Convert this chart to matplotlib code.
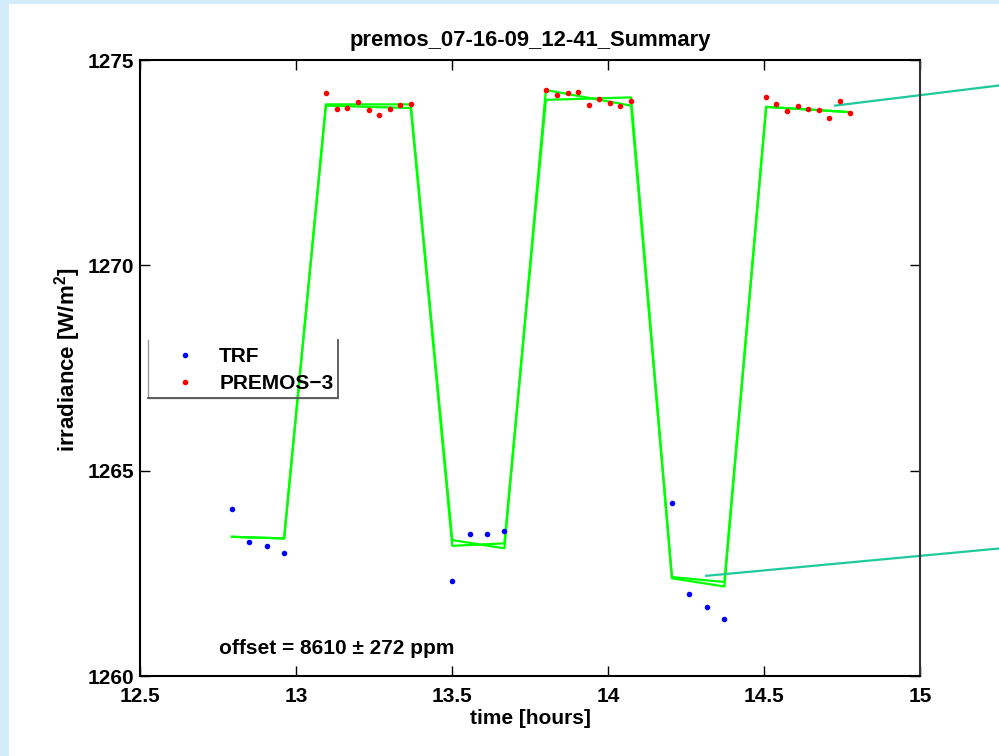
# PREMOS-3 vs TRF irradiance summary plot

import matplotlib
matplotlib.use("Agg")
import matplotlib.pyplot as plt
from matplotlib.patches import Rectangle
from matplotlib.lines import Line2D

plt.rcParams["font.family"] = ["Liberation Sans", "DejaVu Sans"]
plt.rcParams["font.weight"] = "bold"
plt.rcParams["mathtext.fontset"] = "custom"
plt.rcParams["mathtext.rm"] = "Liberation Sans:bold"
plt.rcParams["mathtext.bf"] = "Liberation Sans:bold"

# TRF samples (shutter closed/dark plateaus)
trf_t = [12.795, 12.849, 12.907, 12.962,
         13.501, 13.557, 13.611, 13.667,
         14.204, 14.261, 14.317, 14.372]
trf_v = [1264.07, 1263.26, 1263.17, 1263.00,
         1262.31, 1263.47, 1263.47, 1263.54,
         1264.21, 1261.99, 1261.69, 1261.38]

# PREMOS-3 samples
pre_t = [13.097, 13.131, 13.165, 13.199, 13.233, 13.266, 13.300, 13.333, 13.368,
         13.802, 13.837, 13.871, 13.904, 13.938, 13.971, 14.005, 14.040, 14.074,
         14.507, 14.540, 14.574, 14.609, 14.642, 14.676, 14.709, 14.744, 14.777]
pre_v = [1274.19, 1273.81, 1273.82, 1273.98, 1273.78, 1273.67, 1273.80, 1273.90, 1273.93,
         1274.27, 1274.16, 1274.20, 1274.21, 1273.90, 1274.04, 1273.96, 1273.88, 1274.00,
         1274.09, 1273.94, 1273.77, 1273.88, 1273.81, 1273.78, 1273.58, 1274.01, 1273.70]

# plateau fits (two passes)
fit_t = [12.795, 12.962, 13.096, 13.368, 13.501, 13.668, 13.801, 14.074, 14.205, 14.373, 14.507, 14.777]
fit_a = [1263.39, 1263.35, 1273.92, 1273.92, 1263.31, 1263.11, 1274.27, 1273.89, 1262.38, 1262.18, 1273.86, 1273.73]
fit_b = [1263.39, 1263.35, 1273.89, 1273.83, 1263.17, 1263.23, 1274.03, 1274.09, 1262.41, 1262.29, 1273.86, 1273.73]

# trend lines running off the right side
trend_hi_t = [14.728, 15.5]
trend_hi_v = [1273.89, 1274.61]
trend_lo_t = [14.315, 15.5]
trend_lo_v = [1262.44, 1263.28]

xticks = [12.5, 13, 13.5, 14, 14.5, 15]
xtick_labels = ["12.5", "13", "13.5", "14", "14.5", "15"]
yticks = [1260, 1265, 1270, 1275]

fig = plt.figure(figsize=(9.99, 7.56), dpi=100, facecolor="#d2ecfb")
fig.patches.append(Rectangle((9 / 999, 0), 1, 1 - 4 / 756, transform=fig.transFigure,
                             facecolor="white", edgecolor="none", zorder=-5))
ax = fig.add_axes([0.1401, 0.1058, 0.7808, 0.8148])

ax.plot(fit_t, fit_a, color="#00ff00", lw=1.6, zorder=2)
ax.plot(fit_t, fit_b, color="#00ff00", lw=1.6, zorder=2)
ax.plot(trend_hi_t, trend_hi_v, color="#1ec99b", lw=1.6, clip_on=False, zorder=2)
ax.plot(trend_lo_t, trend_lo_v, color="#1ec99b", lw=1.6, clip_on=False, zorder=2)
ax.plot(trf_t, trf_v, "o", color="#0000ff", ms=4, mec="none", label="TRF", zorder=3)
ax.plot(pre_t, pre_v, "o", color="#ff0000", ms=4, mec="none", label="PREMOS\u22123", zorder=3)

ax.set_xlim(12.5, 15)
ax.set_ylim(1260, 1275)
ax.set_xticks(xticks)
ax.set_xticklabels(xtick_labels)
ax.set_yticks(yticks)
ax.tick_params(direction="in", length=7, width=1, top=True, right=True, labelsize=15)
ax.tick_params(axis="x", pad=8)
ax.tick_params(axis="y", pad=4)
for s in ax.spines.values():
    s.set_linewidth(1.5)
ax.spines["right"].set_color("#333333")

ax.set_title("premos_07-16-09_12-41_Summary", fontsize=15.8, fontweight="bold", pad=10)
ax.set_xlabel("time [hours]", fontsize=15, fontweight="bold", labelpad=2)
ax.set_ylabel(r"irradiance [W/m$^{\mathbf{2}}$]", fontsize=16, fontweight="bold")
ax.yaxis.set_label_coords(-0.073, 0.513)

ax.text(0.101, 0.045, "offset = 8610 \u00b1 272 ppm", transform=ax.transAxes,
        fontsize=15, fontweight="bold", ha="left", va="center")

leg = ax.legend(loc="upper left", bbox_to_anchor=(0.0103, 0.5455), borderaxespad=0,
                frameon=False, fontsize=15, handlelength=2.88, handletextpad=0.2,
                borderpad=0.34, labelspacing=0.39, numpoints=1)

# legend frame (top edge not drawn, as in the original)
ax.add_line(Line2D([0.0103, 0.0103, 0.2538], [0.5455, 0.4513, 0.4513], transform=ax.transAxes,
                   color="#9a9a9a", lw=1, zorder=4))
ax.add_line(Line2D([0.0103, 0.2538, 0.2538], [0.4513, 0.4513, 0.5455], transform=ax.transAxes,
                   color="#555555", lw=1.3, zorder=4))

fig.savefig("out.png", dpi=100, facecolor=fig.get_facecolor())
